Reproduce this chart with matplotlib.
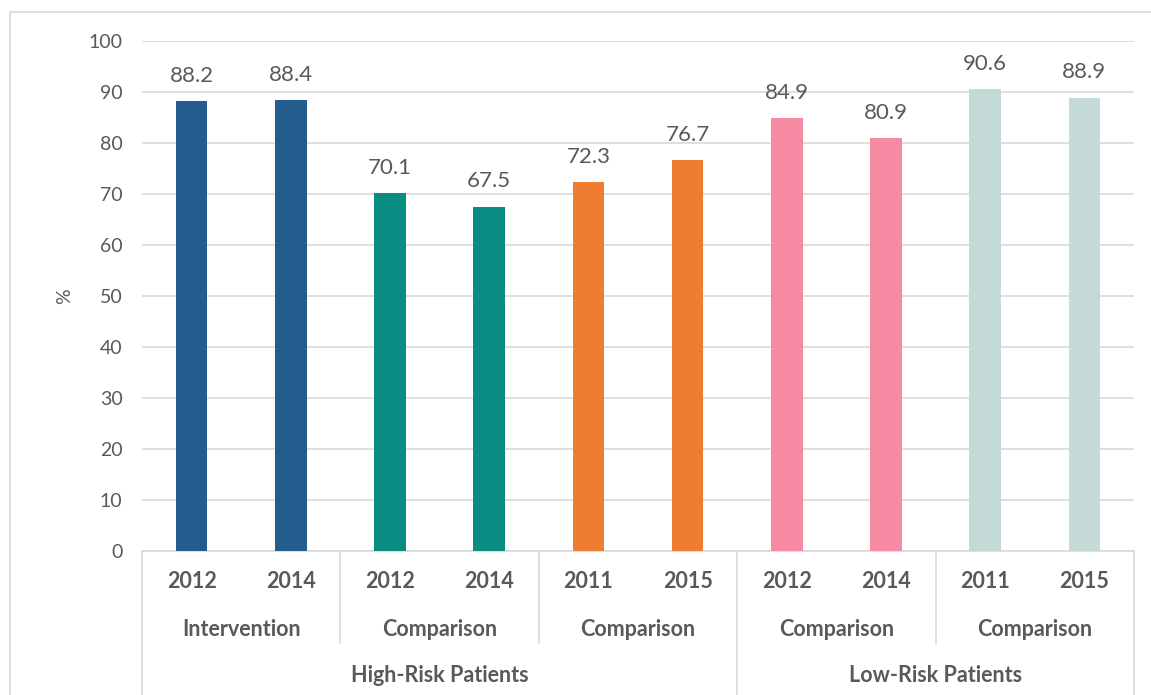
import matplotlib.pyplot as plt
from matplotlib.patches import Rectangle
import numpy as np

plt.rcParams['font.family'] = ['Lato', 'DejaVu Sans']

years = ['2012', '2014', '2012', '2014', '2011', '2015', '2012', '2014', '2011', '2015']
values = [88.2, 88.4, 70.1, 67.5, 72.3, 76.7, 84.9, 80.9, 90.6, 88.9]
groups = ['Intervention', 'Comparison', 'Comparison', 'Comparison', 'Comparison']
risk = ['High-Risk Patients', 'Low-Risk Patients']
risk_sizes = [3, 2]  # groups per risk level
colors = ['#245C8E', '#098C82', '#EE7D31', '#F78AA2', '#C5D9D7']

txt = '#595959'
line = '#D9D9D9'

fig = plt.figure(figsize=(11.51, 6.95), dpi=100)
ax = fig.add_axes([142 / 1151, 1 - 551 / 695, 992 / 1151, 510 / 695])

x = np.arange(len(values))
bar_colors = [colors[i // 2] for i in x]
bars = ax.bar(x, values, width=0.32, color=bar_colors, zorder=3)
for xi, v in zip(x, values):
    ax.text(xi, v + 3.0, f'{v:.1f}', ha='center', va='bottom', fontsize=16, color=txt)

ax.set_xlim(-0.5, len(values) - 0.5)
ax.set_ylim(0, 100)
ax.set_yticks(np.arange(0, 101, 10))
ax.tick_params(axis='y', length=0, labelsize=14, labelcolor=txt, pad=14)
ax.set_xticks([])
ax.grid(axis='y', color=line, linewidth=1.2, zorder=0)
for s in ['top', 'right', 'left']:
    ax.spines[s].set_visible(False)
ax.spines['bottom'].set_color(line)
ax.spines['bottom'].set_linewidth(1.2)
ax.set_ylabel('%', fontsize=14, color=txt, labelpad=11)

# multi-level category axis below the bars
tr = ax.get_xaxis_transform()
def yfig(py):
    # pixel row -> axes fraction for the blended transform
    return (551 - py) / 510

lab = dict(transform=tr, ha='center', va='center', fontsize=15.5,
           fontweight='bold', color=txt, clip_on=False)

for xi, yr in zip(x, years):
    ax.text(xi, yfig(582), yr, **lab)

for gi, g in enumerate(groups):
    ax.text(2 * gi + 0.5, yfig(629), g, **lab)

start = 0
for r, n in zip(risk, risk_sizes):
    mid = start + n - 0.5
    ax.text(mid, yfig(675), r, **lab)
    start += 2 * n

edges = np.arange(-0.5, len(values), 2)
outer = [-0.5, 5.5, 9.5]
for e in edges:
    y_end = yfig(700) if e in outer else yfig(643)
    ax.plot([e, e], [0, y_end], transform=tr, color=line, linewidth=1.2,
            clip_on=False)

# outer chart frame
fig.patches.append(Rectangle((10 / 1151, -0.05), 1.1, 1 - 12 / 695 + 0.05,
                             transform=fig.transFigure, fill=False,
                             edgecolor=line, linewidth=1.2))

fig.savefig('out.png', dpi=100)
